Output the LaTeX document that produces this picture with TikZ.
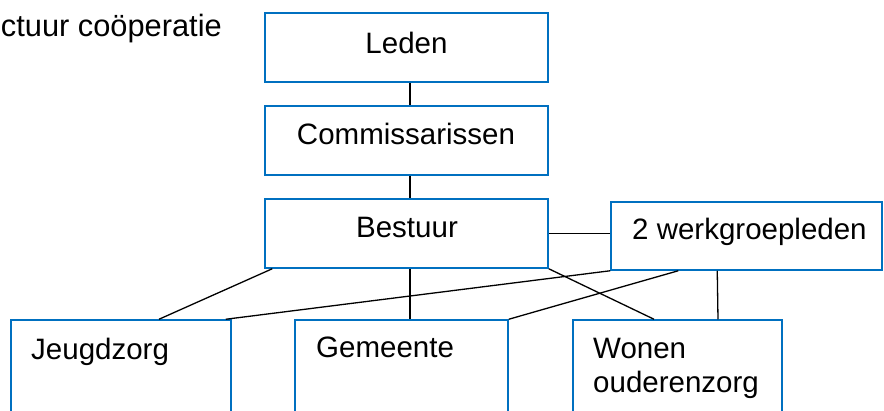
\documentclass[tikz,border=0pt]{standalone}
\usepackage{fontspec}
\setmainfont{Liberation Sans}
\usetikzlibrary{calc}
\definecolor{boxblue}{RGB}{0,112,192}
\tikzset{
  box/.style={draw=boxblue, line width=1.5pt, fill=white, inner sep=0pt, minimum width=#1},
  conn/.style={draw=black, line width=1.3pt},
  txt/.style={inner sep=0pt, font=\fontsize{29.5pt}{34pt}\selectfont}
}
\begin{document}
\begin{tikzpicture}[x=1pt,y=-1pt]
\useasboundingbox (0,0) rectangle (884,410);
\clip (0,0) rectangle (884,410);
% title
\node[inner sep=0pt, font=\fontsize{30.8pt}{34pt}\selectfont, anchor=base east] (title) at (222,36) {ctuur coöperatie};
% boxes
\node[box=283pt, minimum height=69pt] (leden) at (406.5,47.5) {};
\node[txt] (ledent) at (406.5,42.7) {Leden};
\node[box=283pt, minimum height=69pt] (comm) at (406.5,140.5) {};
\node[txt] (commt) at (406,133.5) {Commissarissen};
\node[box=283pt, minimum height=69pt] (best) at (406.5,233.5) {};
\node[txt] (bestt) at (407,227) {Bestuur};
\node[box=271pt, minimum height=68pt] (wg) at (746.5,236) {};
\node[txt, anchor=west] (wgt) at (632,232) {2 werkgroepleden};
\node[box=220pt, minimum height=110pt] (jeugd) at (121,375) {};
\node[txt, anchor=west] (jeugdt) at (31,352) {Jeugdzorg};
\node[box=213pt, minimum height=110pt] (gem) at (401.5,375) {};
\node[txt, anchor=west] (gemt) at (316,347) {Gemeente};
\node[box=209pt, minimum height=110pt] (won) at (677.5,375) {};
\node[txt, anchor=north west, align=left] (wont) at (593,337.5) {Wonen\\ouderenzorg};
% connectors
\draw[conn] ([xshift=3.5pt]leden.south) -- ([xshift=3.5pt]comm.north);
\draw[conn] ([xshift=3.5pt]comm.south) -- ([xshift=3.5pt]best.north);
\draw[conn] (best.east) -- (best.east -| wg.west);
\draw[conn] ([xshift=8pt]best.south west) -- ([xshift=38pt]jeugd.north);
\draw[conn] ([xshift=3.5pt]best.south) -- ([xshift=8.5pt]gem.north);
\draw[conn] (best.south east) -- ([xshift=-23.5pt]won.north);
\draw[conn] (wg.south west) -- ([xshift=-6pt]jeugd.north east);
\draw[conn] ([xshift=68pt]wg.south west) -- (gem.north east);
\draw[conn] ([xshift=107pt]wg.south west) -- ([xshift=40.5pt]won.north);
\end{tikzpicture}
\end{document}
